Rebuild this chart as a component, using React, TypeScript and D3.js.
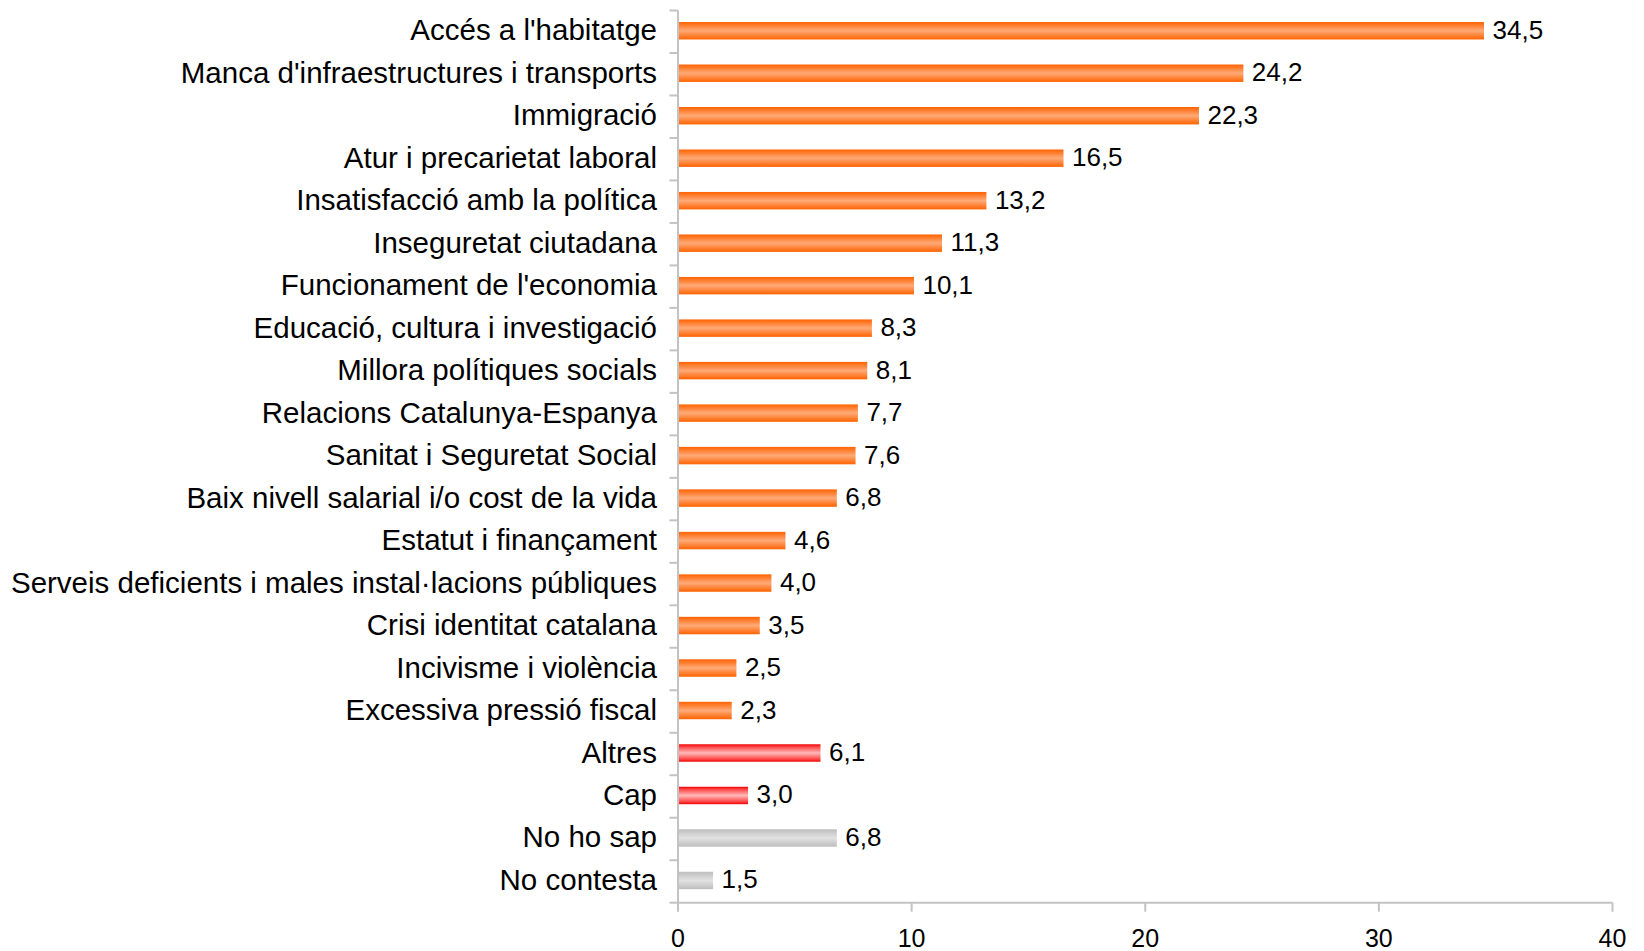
import React from "react";
import * as d3 from "d3";

const categories: string[] = [
  "Accés a l'habitatge",
  "Manca d'infraestructures i transports",
  "Immigració",
  "Atur i precarietat laboral",
  "Insatisfacció amb la política",
  "Inseguretat ciutadana",
  "Funcionament de l'economia",
  "Educació, cultura i investigació",
  "Millora polítiques socials",
  "Relacions Catalunya-Espanya",
  "Sanitat i Seguretat Social",
  "Baix nivell salarial i/o cost de la vida",
  "Estatut i finançament",
  "Serveis deficients i males instal·lacions públiques",
  "Crisi identitat catalana",
  "Incivisme i violència",
  "Excessiva pressió fiscal",
  "Altres",
  "Cap",
  "No ho sap",
  "No contesta",
];

const values: number[] = [
  34.5, 24.2, 22.3, 16.5, 13.2, 11.3, 10.1, 8.3, 8.1, 7.7, 7.6, 6.8, 4.6, 4.0,
  3.5, 2.5, 2.3, 6.1, 3.0, 6.8, 1.5,
];

const groups: string[] = [
  "main", "main", "main", "main", "main", "main", "main", "main", "main",
  "main", "main", "main", "main", "main", "main", "main", "main",
  "other", "other", "unknown", "unknown",
];

const xTicks: number[] = [0, 10, 20, 30, 40];

const W = 1644;
const H = 951;
const left = 678;
const right = 1612.5;
const top = 10.5;
const bottom = 902.7;
const axisColor = "#C3C3C3";
const font = "'Liberation Sans', Arial, Helvetica, sans-serif";

const gradId: Record<string, string> = {
  main: "url(#gOrange)",
  other: "url(#gRed)",
  unknown: "url(#gGray)",
};

export default function App() {
  const x = d3.scaleLinear().domain([0, 40]).range([left, right]);
  const y = d3
    .scaleBand<string>()
    .domain(categories)
    .range([top, bottom])
    .paddingInner(0.59)
    .paddingOuter(0.295);
  const rows = d3.scaleBand<string>().domain(categories).range([top, bottom]).padding(0);
  const step = rows.step();
  const boundaries = d3.range(categories.length + 1).map((i) => top + i * step);
  const fmt = (v: number) => v.toFixed(1).replace(".", ",");
  const barShift = -1;

  return (
    <svg
      width={W}
      height={H}
      style={{ position: "absolute", left: 0, top: 0, background: "#fff" }}
      fontFamily={font}
    >
      <defs>
        <linearGradient id="gOrange" x1="0" y1="0" x2="0" y2="1">
          <stop offset="0" stopColor="#FF6200" />
          <stop offset="0.5" stopColor="#FFAA78" />
          <stop offset="1" stopColor="#FF6200" />
        </linearGradient>
        <linearGradient id="gRed" x1="0" y1="0" x2="0" y2="1">
          <stop offset="0" stopColor="#F00000" />
          <stop offset="0.15" stopColor="#FF4848" />
          <stop offset="0.5" stopColor="#FFB8B8" />
          <stop offset="0.85" stopColor="#FF4848" />
          <stop offset="1" stopColor="#F00000" />
        </linearGradient>
        <linearGradient id="gGray" x1="0" y1="0" x2="0" y2="1">
          <stop offset="0" stopColor="#BDBDBD" />
          <stop offset="0.5" stopColor="#E2E2E2" />
          <stop offset="1" stopColor="#BDBDBD" />
        </linearGradient>
      </defs>
      <rect x={0} y={0} width={W} height={H} fill="#fff" />

      {/* bars */}
      {categories.map((c, i) => (
        <rect
          key={"b" + i}
          x={x(0) + 1}
          y={(y(c) as number) + barShift}
          width={x(values[i]) - x(0) - 1}
          height={y.bandwidth()}
          fill={gradId[groups[i]]}
        />
      ))}

      {/* value labels */}
      {categories.map((c, i) => (
        <text
          key={"v" + i}
          x={x(values[i]) + 8.5}
          y={(y(c) as number) + y.bandwidth() / 2 + barShift + 8}
          fontSize={26}
          fill="#000"
        >
          {fmt(values[i])}
        </text>
      ))}

      {/* category labels */}
      {categories.map((c, i) => (
        <text
          key={"c" + i}
          x={657}
          y={(rows(c) as number) + step / 2 + barShift + 9.5}
          fontSize={29.5}
          textAnchor="end"
          fill="#000"
        >
          {c}
        </text>
      ))}

      {/* y axis */}
      <line x1={left} x2={left} y1={top} y2={bottom} stroke={axisColor} strokeWidth={2} />
      {boundaries.map((b, i) => (
        <line key={"yt" + i} x1={669.5} x2={left} y1={b} y2={b} stroke={axisColor} strokeWidth={2} />
      ))}

      {/* x axis */}
      <line x1={left} x2={right} y1={bottom} y2={bottom} stroke={axisColor} strokeWidth={2} />
      {xTicks.map((t) => (
        <g key={"xt" + t}>
          <line x1={x(t)} x2={x(t)} y1={bottom} y2={bottom + 9} stroke={axisColor} strokeWidth={2} />
          <text x={x(t)} y={946.5} fontSize={25} textAnchor="middle" fill="#000">
            {t}
          </text>
        </g>
      ))}
    </svg>
  );
}
